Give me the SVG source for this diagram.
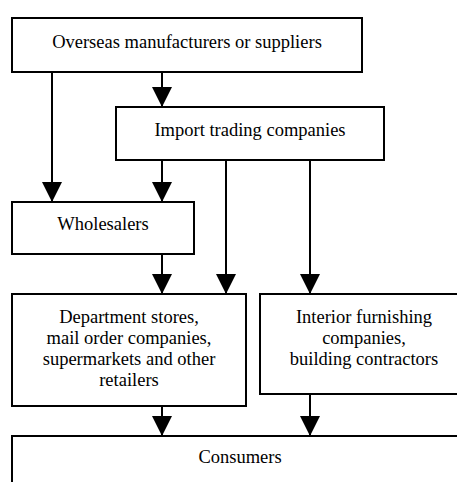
<svg xmlns="http://www.w3.org/2000/svg" width="457" height="482" viewBox="0 0 457 482">
  <style>
    .box { fill: #ffffff; stroke: #000000; stroke-width: 2; }
    .lbl { font-family: "Liberation Serif", "Times New Roman", serif; font-size: 18.5px; fill: #000000; text-anchor: middle; }
    .edge { stroke: #000000; stroke-width: 2; fill: none; marker-end: url(#head); }
  </style>
  <defs>
    <marker id="head" viewBox="0 0 20 20" refX="20" refY="10" markerWidth="20" markerHeight="20" markerUnits="userSpaceOnUse" orient="auto">
      <path d="M0,0 L20,10 L0,20 Z" fill="#000000"/>
    </marker>
  </defs>
  <rect width="457" height="482" fill="#ffffff"/>

  <!-- connectors -->
  <g id="connectors">
    <line class="edge" x1="162" y1="72" x2="162" y2="107"/>
    <line class="edge" x1="52" y1="72" x2="52" y2="202"/>
    <line class="edge" x1="162" y1="160" x2="162" y2="202"/>
    <line class="edge" x1="226" y1="160" x2="226" y2="294"/>
    <line class="edge" x1="310" y1="160" x2="310" y2="294"/>
    <line class="edge" x1="162" y1="254" x2="162" y2="294"/>
    <line class="edge" x1="162" y1="406" x2="162" y2="436"/>
    <line class="edge" x1="310" y1="394" x2="310" y2="436"/>
  </g>

  <g id="overseas">
    <rect class="box" x="12" y="18" width="350" height="54"/>
    <text class="lbl" x="187" y="48">Overseas manufacturers or suppliers</text>
  </g>

  <g id="import">
    <rect class="box" x="116" y="107" width="268" height="53"/>
    <text class="lbl" x="250" y="136">Import trading companies</text>
  </g>

  <g id="wholesalers">
    <rect class="box" x="12" y="202" width="182" height="52"/>
    <text class="lbl" x="103" y="230">Wholesalers</text>
  </g>

  <g id="retailers">
    <rect class="box" x="12" y="294" width="234" height="112"/>
    <text class="lbl" x="129" y="323">Department stores,</text>
    <text class="lbl" x="129" y="344">mail order companies,</text>
    <text class="lbl" x="129" y="365">supermarkets and other</text>
    <text class="lbl" x="129" y="386">retailers</text>
  </g>

  <g id="interior">
    <rect class="box" x="260" y="294" width="208" height="100"/>
    <text class="lbl" x="364" y="323">Interior furnishing</text>
    <text class="lbl" x="364" y="344">companies,</text>
    <text class="lbl" x="364" y="365">building contractors</text>
  </g>

  <g id="consumers">
    <rect class="box" x="12" y="436" width="456" height="60"/>
    <text class="lbl" x="240" y="463">Consumers</text>
  </g>
</svg>
